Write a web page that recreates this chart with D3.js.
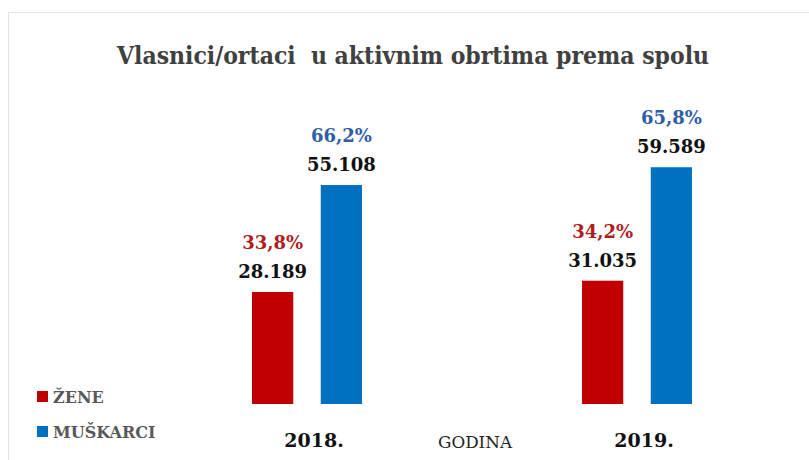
<!DOCTYPE html>
<html><head><meta charset="utf-8">
<script src="https://cdn.jsdelivr.net/npm/d3@7"></script>
<style>html,body{margin:0;padding:0;background:#fff;}svg{display:block;}</style>
</head><body>
<script>
const title = "Vlasnici/ortaci  u aktivnim obrtima prema spolu";
const years = ["2018.", "2019."];
const seriesNames = ["ŽENE", "MUŠKARCI"];
const zene = [28189, 31035];
const muskarci = [55108, 59589];
const zenePct = ["33,8%", "34,2%"];
const muskarciPct = ["66,2%", "65,8%"];
const valueLabels = [["28.189", "31.035"], ["55.108", "59.589"]];
const axisTitle = "GODINA";

const W = 809, H = 460;
const svg = d3.select("body").append("svg").attr("width", W).attr("height", H);
svg.append("rect").attr("width", W).attr("height", H).attr("fill", "#fff");
// frame
svg.append("path").attr("d", `M8.5,${H} V12.5 H${W}`).attr("fill", "none").attr("stroke", "#e3e3e3").attr("stroke-width", 1);

const serif = "'DejaVu Serif', 'Liberation Serif', serif";

const x = d3.scaleBand().domain(years).range([142, 802]).padding(0);
const xs = d3.scaleBand().domain([0, 1]).range([0, 110]).paddingInner(0.4);
const y = d3.scaleLinear().domain([0, 60000]).range([404, 165.6]);

const series = [
  {vals: zene, pct: zenePct, color: "#C00000", pctColor: "#B01C1C"},
  {vals: muskarci, pct: muskarciPct, color: "#0070C0", pctColor: "#2F5DA6"}
];

const innerOff = (x.bandwidth() - 110) / 2;
series.forEach((s, si) => {
  const g = svg.append("g");
  years.forEach((yr, i) => {
    const bx = x(yr) + innerOff + xs(si);
    const bw = xs.bandwidth();
    g.append("rect").attr("x", bx).attr("y", y(s.vals[i])).attr("width", bw)
      .attr("height", y(0) - y(s.vals[i])).attr("fill", s.color);
    g.append("text").attr("x", bx + bw / 2).attr("y", y(s.vals[i]) - 14)
      .attr("text-anchor", "middle").attr("font-family", serif).attr("font-weight", "bold")
      .attr("font-size", 18).attr("fill", "#111").text(valueLabels[si][i]);
    g.append("text").attr("x", bx + bw / 2).attr("y", y(s.vals[i]) - 43)
      .attr("text-anchor", "middle").attr("font-family", serif).attr("font-weight", "bold")
      .attr("font-size", 18).attr("fill", s.pctColor).text(s.pct[i]);
  });
});

// x axis labels
years.forEach(yr => {
  svg.append("text").attr("x", x(yr) + x.bandwidth() / 2 + 7).attr("y", 447)
    .attr("text-anchor", "middle").attr("font-family", serif).attr("font-weight", "bold")
    .attr("font-size", 19).attr("fill", "#111").text(yr);
});
svg.append("text").attr("x", 475).attr("y", 448).attr("text-anchor", "middle")
  .attr("font-family", serif).attr("font-size", 16).attr("fill", "#222")
  .attr("textLength", 74).attr("lengthAdjust", "spacingAndGlyphs").text(axisTitle);

// legend
const legColors = ["#C00000", "#0070C0"];
seriesNames.forEach((n, i) => {
  const ly = 403 + i * 35;
  svg.append("rect").attr("x", 37).attr("y", ly - 12).attr("width", 11).attr("height", 11).attr("fill", legColors[i]);
  svg.append("text").attr("x", 53).attr("y", ly).attr("font-family", serif).attr("font-weight", "bold")
    .attr("font-size", 16).attr("fill", "#595959").text(n);
});

// title
svg.append("text").attr("x", 117).attr("y", 64)
  .attr("font-family", serif).attr("font-weight", "bold").attr("font-size", 24.5)
  .attr("fill", "#404040").attr("xml:space", "preserve").style("white-space", "pre")
  .attr("textLength", 592).attr("lengthAdjust", "spacingAndGlyphs").text(title);
</script>
</body></html>
